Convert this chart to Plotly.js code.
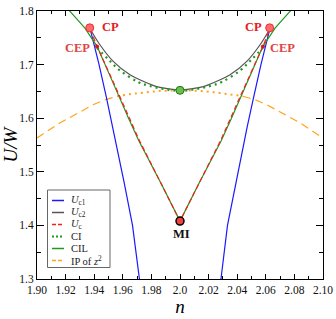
<!DOCTYPE html>
<html>
<head>
<meta charset="utf-8">
<script src="https://cdn.plot.ly/plotly-3.0.1.min.js"></script>
<style>html,body{margin:0;padding:0;background:#fff;}#chart{width:336px;height:319px;}</style>
</head>
<body>
<div id="chart"></div>
<script>
// ---------------- data ----------------
const nRange = [1.90, 2.10];
const URange = [1.3, 1.8];
const xTickVals = [1.90, 1.92, 1.94, 1.96, 1.98, 2.00, 2.02, 2.04, 2.06, 2.08, 2.10];
const xTickText = ["1.90", "1.92", "1.94", "1.96", "1.98", "2.0", "2.02", "2.04", "2.06", "2.08", "2.10"];

// U_c1 (blue), two branches separated by null
const nUc1 = [1.9372, 1.9434, 1.9486, 1.9529, 1.9560, 1.9611, 1.9668, 1.9713, 1.9726, null,
              2.0274, 2.0287, 2.0332, 2.0389, 2.0440, 2.0471, 2.0514, 2.0566, 2.0628];
const UUc1 = [1.766, 1.700, 1.638, 1.585, 1.547, 1.478, 1.400, 1.301, 1.280, null,
              1.280, 1.301, 1.400, 1.478, 1.547, 1.585, 1.638, 1.700, 1.766];

// U_c2 (gray)
const nUc2 = [1.9375, 1.9440, 1.9533, 1.9650, 1.9750, 1.9837, 1.9920, 2.0000, 2.0080, 2.0163, 2.0250, 2.0350, 2.0467, 2.0560, 2.0625];
const UUc2 = [1.765, 1.737, 1.706, 1.681, 1.668, 1.659, 1.655, 1.653, 1.655, 1.659, 1.668, 1.681, 1.706, 1.737, 1.765];

// U_c (red dashed)
const nUc = [1.9372, 1.9420, 1.9580, 1.9713, 1.9866, 2.0000, 2.0134, 2.0287, 2.0420, 2.0580, 2.0628];
const UUc = [1.766, 1.734, 1.640, 1.560, 1.479, 1.408, 1.479, 1.560, 1.640, 1.734, 1.766];

// CI (green dotted)
const nCI = [1.9420, 1.9498, 1.9575, 1.9708, 1.9790, 1.9895, 2.0000, 2.0105, 2.0210, 2.0292, 2.0425, 2.0502, 2.0580];
const UCI = [1.731, 1.710, 1.690, 1.6675, 1.660, 1.654, 1.651, 1.654, 1.660, 1.6675, 1.690, 1.710, 1.731];

// CIL (green solid)
const nCIL = [1.9195, 1.9252, 1.9334, 1.9420, 1.9495, 1.9568, 1.9640, 1.9712, 1.9866, 2.0000,
              2.0134, 2.0288, 2.0360, 2.0432, 2.0505, 2.0580, 2.0666, 2.0748, 2.0805];
const UCIL = [1.810, 1.7935, 1.7686, 1.734, 1.690, 1.644, 1.600, 1.558, 1.479, 1.408,
              1.479, 1.558, 1.600, 1.644, 1.690, 1.734, 1.7686, 1.7935, 1.810];

// IP of z^2 (orange): dashed outer parts, dotted middle part
const nIPL = [1.900, 1.9159, 1.9290, 1.9392, 1.9470, 1.9560];
const UIPL = [1.563, 1.591, 1.610, 1.625, 1.634, 1.641];
const nIPM = [1.9560, 1.9627, 1.9750, 1.9860, 2.0000, 2.0140, 2.0250, 2.0373, 2.0440];
const UIPM = [1.641, 1.644, 1.648, 1.651, 1.652, 1.651, 1.648, 1.644, 1.641];
const nIPR = [2.0440, 2.0530, 2.0608, 2.0710, 2.0841, 2.100];
const UIPR = [1.641, 1.634, 1.625, 1.610, 1.591, 1.563];

// special points
const nCP = [1.9369, 2.0627];  const UCP = [1.7686, 1.7686];
const nCEP = [1.9420, 2.0580]; const UCEP = [1.734, 1.734];
const nMI = [2.0];             const UMI = [1.408];
const nCen = [2.0];            const UCen = [1.652];

const seriesNames = ["<i>U</i><sub>c1</sub>", "<i>U</i><sub>c2</sub>", "<i>U</i><sub>c</sub>", "CI", "CIL", "IP of <i>z</i><sup>2</sup>"];
const seriesColors = ["#1a1aff", "#555555", "#ff1a1a", "#1f9a1f", "#1f9a1f", "#ffa31a"];
const seriesDash = ["solid", "solid", "4px,2px", "2px,2px", "solid", "4px,2px"];

// ---------------- figure ----------------
const SERIF = "Liberation Serif, Times New Roman, serif";
const lw = 1.2;

const traces = [
  {x: nIPL, y: UIPL, mode: "lines", line: {color: seriesColors[5], width: lw, dash: "8px,5px"}},
  {x: nIPM, y: UIPM, mode: "lines", line: {color: seriesColors[5], width: 2, dash: "2px,4px"}},
  {x: nIPR, y: UIPR, mode: "lines", line: {color: seriesColors[5], width: lw, dash: "8px,5px"}},
  {x: nUc1, y: UUc1, mode: "lines", line: {color: seriesColors[0], width: lw}, connectgaps: false},
  {x: nUc2, y: UUc2, mode: "lines", line: {color: seriesColors[1], width: lw, shape: "spline"}},
  {x: nCIL, y: UCIL, mode: "lines", line: {color: seriesColors[4], width: lw}},
  {x: nUc, y: UUc, mode: "lines", line: {color: seriesColors[2], width: lw, dash: "5px,3px"}},
  {x: nCI, y: UCI, mode: "lines", line: {color: seriesColors[3], width: 2.2, dash: "2px,4px", shape: "spline"}},
  {x: nCEP, y: UCEP, mode: "markers", marker: {color: "#cc1a1a", size: 4}},
  {x: nCP, y: UCP, mode: "markers", marker: {color: "#ff6b6b", size: 8, line: {color: "#e83030", width: 1}}},
  {x: nMI, y: UMI, mode: "markers", marker: {color: "#f04040", size: 8, line: {color: "#000", width: 1.5}}},
  {x: nCen, y: UCen, mode: "markers", marker: {color: "#6cc04a", size: 8, line: {color: "#1f7a1f", width: 1}}}
];

const labelFont = (c) => ({family: SERIF, size: 12.5, color: c, weight: "bold"});
const annotations = [
  {x: nCP[0], y: UCP[0], text: "CP", showarrow: false, xshift: 21, yshift: 1, font: labelFont("#e32020")},
  {x: nCP[1], y: UCP[1], text: "CP", showarrow: false, xshift: -16, yshift: 1, font: labelFont("#e32020")},
  {x: nCEP[0], y: UCEP[0], text: "CEP", showarrow: false, xshift: -20, yshift: -2, font: labelFont("#e04545")},
  {x: nCEP[1], y: UCEP[1], text: "CEP", showarrow: false, xshift: 20, yshift: -2, font: labelFont("#e04545")},
  {x: nMI[0], y: UMI[0], text: "MI", showarrow: false, xshift: 1, yshift: -13, font: labelFont("#111")}
];

// custom legend (plot-area paper coordinates)
const L = 37, R = 323, T = 11, B = 279;
const px = (p) => (p - L) / (R - L);
const py = (p) => (B - p) / (B - T);
const shapes = [
  {type: "rect", xref: "paper", yref: "paper", x0: px(47.5), x1: px(110), y0: py(267.5), y1: py(190),
   line: {color: "#666", width: 1}, fillcolor: "#fff", layer: "above"}
];
seriesNames.forEach((name, i) => {
  const yy = py(200.5 + 12 * i);
  shapes.push({type: "line", xref: "paper", yref: "paper", x0: px(52), x1: px(64), y0: yy, y1: yy,
    line: {color: seriesColors[i], width: seriesDash[i] === "2px,2px" ? 2 : 1.5, dash: seriesDash[i]}, layer: "above"});
  annotations.push({xref: "paper", yref: "paper", x: px(69), y: yy, xanchor: "left", yanchor: "middle",
    text: name, showarrow: false, font: {family: SERIF, size: 10.5, color: "#222"}});
});

const layout = {
  width: 336, height: 319,
  margin: {l: L, r: 336 - R, t: T, b: 319 - B, pad: 0},
  paper_bgcolor: "#fff", plot_bgcolor: "#fff",
  showlegend: false,
  font: {family: SERIF, color: "#111"},
  xaxis: {
    range: nRange, tickmode: "array", tickvals: xTickVals, ticktext: xTickText,
    ticks: "inside", ticklen: 5, tickwidth: 1, tickcolor: "#000",
    minor: {tickmode: "linear", tick0: 1.9, dtick: 0.01, ticks: "inside", ticklen: 3, tickcolor: "#000", showgrid: false},
    showline: true, linecolor: "#000", linewidth: 1, mirror: "allticks",
    showgrid: false, zeroline: false,
    tickfont: {family: SERIF, size: 11.5, color: "#111"},
    title: {text: "<i>n</i>", font: {family: SERIF, size: 19, color: "#000"}, standoff: 3}
  },
  yaxis: {
    range: URange, tick0: 1.3, dtick: 0.1, tickformat: ".1f",
    ticks: "inside", ticklen: 7, tickwidth: 1, tickcolor: "#000",
    minor: {dtick: 0.05, ticks: "inside", ticklen: 4, tickcolor: "#000", showgrid: false},
    showline: true, linecolor: "#000", linewidth: 1, mirror: "allticks",
    showgrid: false, zeroline: false,
    tickfont: {family: SERIF, size: 11.5, color: "#111"},
    title: {text: "<i>U/W</i>", font: {family: SERIF, size: 19, color: "#000"}, standoff: 3}
  },
  shapes: shapes,
  annotations: annotations
};

Plotly.newPlot("chart", traces, layout, {staticPlot: true, displayModeBar: false});
</script>
</body>
</html>
